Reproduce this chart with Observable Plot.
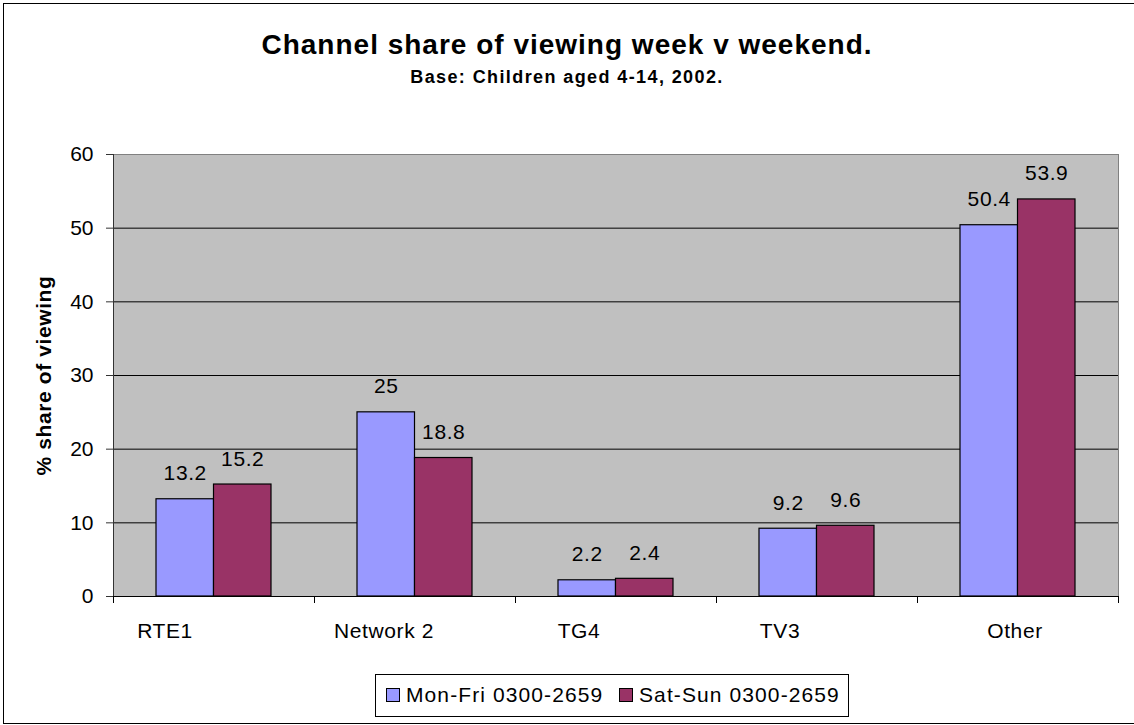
<!DOCTYPE html>
<html>
<head>
<meta charset="utf-8">
<script src="https://cdn.jsdelivr.net/npm/d3@7"></script>
<script src="https://cdn.jsdelivr.net/npm/@observablehq/plot@0.6"></script>
<style>
  html, body { margin: 0; padding: 0; background: #fff; overflow: hidden; }
  #wrap { position: relative; width: 1134px; height: 725px; font-family: "Liberation Sans", Arial, sans-serif; color: #000; }
  #border { position: absolute; left: 3px; top: 3px; width: 1140px; height: 721px; border: 1px solid #000; box-sizing: border-box; }
  #title { position: absolute; left: 0; width: 1134px; top: 31px; line-height: 28px; font-size: 28px; font-weight: bold; text-align: center; letter-spacing: 1px; }
  #subtitle { position: absolute; left: 0; width: 1134px; top: 68px; line-height: 18px; font-size: 18px; font-weight: bold; text-align: center; letter-spacing: 1.4px; }
  #chart { position: absolute; left: 0; top: 0; }
  #legend { position: absolute; left: 375px; top: 674px; width: 474px; height: 43px; border: 1px solid #000; box-sizing: border-box; background: #fff; }
  .sw { position: absolute; top: 13px; width: 14px; height: 14px; border: 1px solid #000; box-sizing: border-box; }
  .lt { position: absolute; top: 9px; font-size: 21px; line-height: 21px; letter-spacing: 1.1px; white-space: nowrap; }
</style>
</head>
<body>
<div id="wrap">
  <div id="border"></div>
  <div id="title"></div>
  <div id="subtitle"></div>
  <div id="chart"></div>
  <div id="legend"></div>
</div>
<script>
// ---- data ----
const titleText = "Channel share of viewing week v weekend.";
const subtitleText = "Base: Children aged 4-14, 2002.";
const yLabel = "% share of viewing";
const categories = ["RTE1", "Network 2", "TG4", "TV3", "Other"];
const series = ["Mon-Fri 0300-2659", "Sat-Sun 0300-2659"];
const monFri = [13.2, 25, 2.2, 9.2, 50.4];
const satSun = [15.2, 18.8, 2.4, 9.6, 53.9];
const yTicks = [0, 10, 20, 30, 40, 50, 60];

// ---- styles ----
const colors = ["#9999ff", "#993366"];
const labelShift = [-49, -31, -37, -37, -3];

document.getElementById("title").textContent = titleText;
document.getElementById("subtitle").textContent = subtitleText;

const rows = categories.flatMap((c, i) => [
  {category: c, series: series[0], value: monFri[i]},
  {category: c, series: series[1], value: satSun[i]}
]);
const s0 = rows.filter(d => d.series === series[0]);
const s1 = rows.filter(d => d.series === series[1]);

const W = 1134, mL = 113, mR = 16;
const step = (W - mL - mR) / categories.length;
const half = step / 2;
const bw = 57.5;
const outer = half - bw;

const chart = Plot.plot({
  width: W,
  height: 646,
  marginTop: 154,
  marginBottom: 50,
  marginLeft: mL,
  marginRight: mR,
  style: {fontFamily: "'Liberation Sans', Arial, sans-serif", fontSize: "21px", background: "transparent"},
  x: {domain: categories, padding: 0, axis: null},
  y: {domain: [0, 60], axis: null},
  marks: [
    Plot.frame({fill: "#c0c0c0", stroke: "#808080"}),
    Plot.ruleY(yTicks.filter(d => d > 0 && d < 60), {stroke: "#000"}),
    Plot.barY(s0, {x: "category", y: "value", fill: colors[0], stroke: "#000", strokeWidth: 1.2, insetLeft: outer, insetRight: half}),
    Plot.barY(s1, {x: "category", y: "value", fill: colors[1], stroke: "#000", strokeWidth: 1.2, insetLeft: half, insetRight: outer}),
    Plot.text(s0, {x: "category", y: "value", text: d => String(d.value), dx: -bw / 2, dy: -19, lineAnchor: "bottom", fontSize: 21, fill: "#000", style: "letter-spacing:0.5px"}),
    Plot.text(s1, {x: "category", y: "value", text: d => String(d.value), dx: bw / 2, dy: -19, lineAnchor: "bottom", fontSize: 21, fill: "#000"}),
    Plot.frame({anchor: "left", stroke: "#333"}),
    Plot.frame({anchor: "bottom", stroke: "#000"}),
    Plot.axisY(yTicks, {tickSize: 7, tickPadding: 13, fontSize: 21, label: null, stroke: "#333"}),
    Plot.ruleX(categories, {x: d => d, dx: -half, y1: 0, y2: 0, insetBottom: -7, stroke: "#000"}),
    Plot.ruleX(categories.slice(-1), {x: d => d, dx: half, y1: 0, y2: 0, insetBottom: -7, stroke: "#000"}),
    ...categories.map((c, i) => Plot.text([c], {x: d => d, y: () => 0, dx: labelShift[i], dy: 35, lineAnchor: "middle", fontSize: 21, fill: "#000"})),
    Plot.text([yLabel], {frameAnchor: "left", textAnchor: "middle", rotate: -90, dx: -69, lineAnchor: "middle", fontSize: 21, fontWeight: "bold", fill: "#000"})
  ]
});
document.getElementById("chart").appendChild(chart);
chart.querySelectorAll("text").forEach(t => { if (!t.closest("[aria-label='y-axis tick label']")) t.style.letterSpacing = "0.6px"; });

// legend
const legend = document.getElementById("legend");
const swLeft = [10, 243];
series.forEach((s, i) => {
  const sw = document.createElement("div");
  sw.className = "sw";
  sw.style.left = swLeft[i] + "px";
  sw.style.background = colors[i];
  legend.appendChild(sw);
  const t = document.createElement("div");
  t.className = "lt";
  t.style.left = (swLeft[i] + 20) + "px";
  t.textContent = s;
  legend.appendChild(t);
});
</script>
</body>
</html>
